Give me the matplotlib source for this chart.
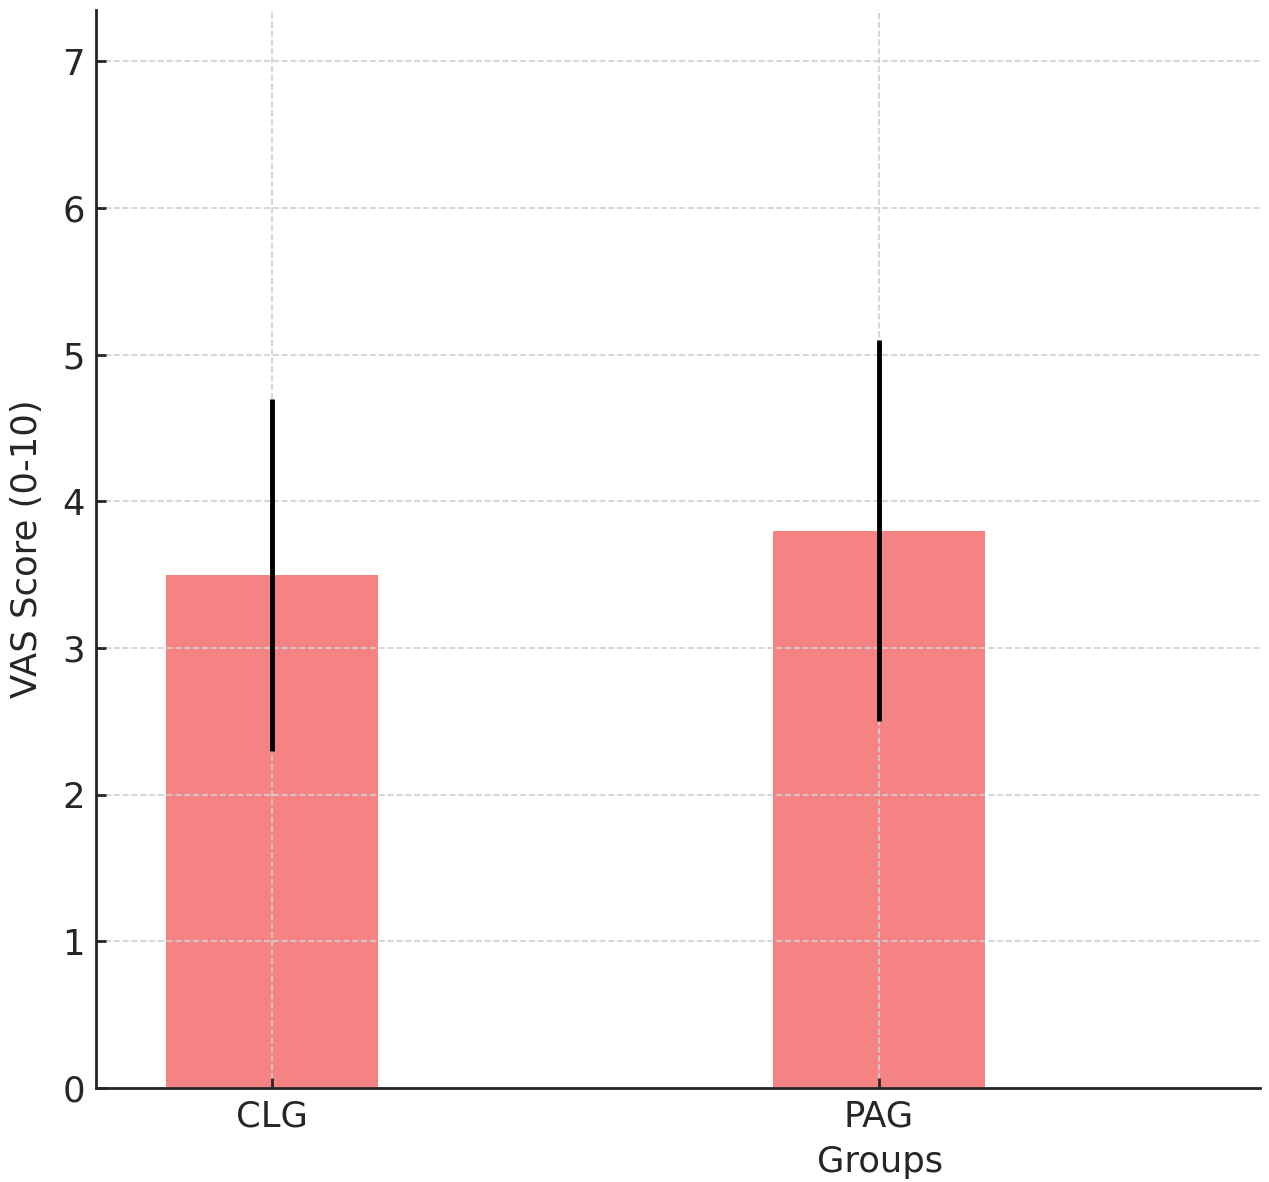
import matplotlib
matplotlib.use("Agg")
import matplotlib.pyplot as plt

# data
groups = ["CLG", "PAG"]
vas_mean = [3.5, 3.8]
vas_err = [1.2, 1.3]

fig = plt.figure(figsize=(12.69, 11.82), dpi=100)
ax = fig.add_axes([0.0757, 0.0795, 0.9173, 0.912])

x = range(len(groups))
ax.bar(x, vas_mean, width=0.35, color="#F58383", zorder=1)
ax.errorbar(x, vas_mean, yerr=vas_err, fmt="none", ecolor="black",
            elinewidth=3.5, capsize=0, zorder=3)

ax.set_xticks(list(x))
ax.set_xticklabels(groups)
ax.set_xlim(-0.29, 1.628)
ax.set_ylim(0, 7.35)
ax.set_yticks(range(0, 8))

ax.set_axisbelow(False)
ax.grid(True, linestyle="--", color="#d0d0d0", linewidth=1.2, zorder=2)

for side in ["top", "right"]:
    ax.spines[side].set_visible(False)
for side in ["left", "bottom"]:
    ax.spines[side].set_linewidth(2)
    ax.spines[side].set_color("#262626")
    ax.spines[side].set_zorder(5)

ax.tick_params(axis="both", direction="in", length=7, width=2,
               labelsize=25.5, colors="#262626", pad=8)

ax.set_ylabel("VAS Score (0-10)", fontsize=25.5, color="#262626")
ax.yaxis.set_label_coords(-0.045, 0.5)
ax.set_xlabel("Groups", fontsize=25.5, color="#262626")
ax.xaxis.set_label_coords(0.6735, -0.053)

fig.savefig("out.png", dpi=100)
